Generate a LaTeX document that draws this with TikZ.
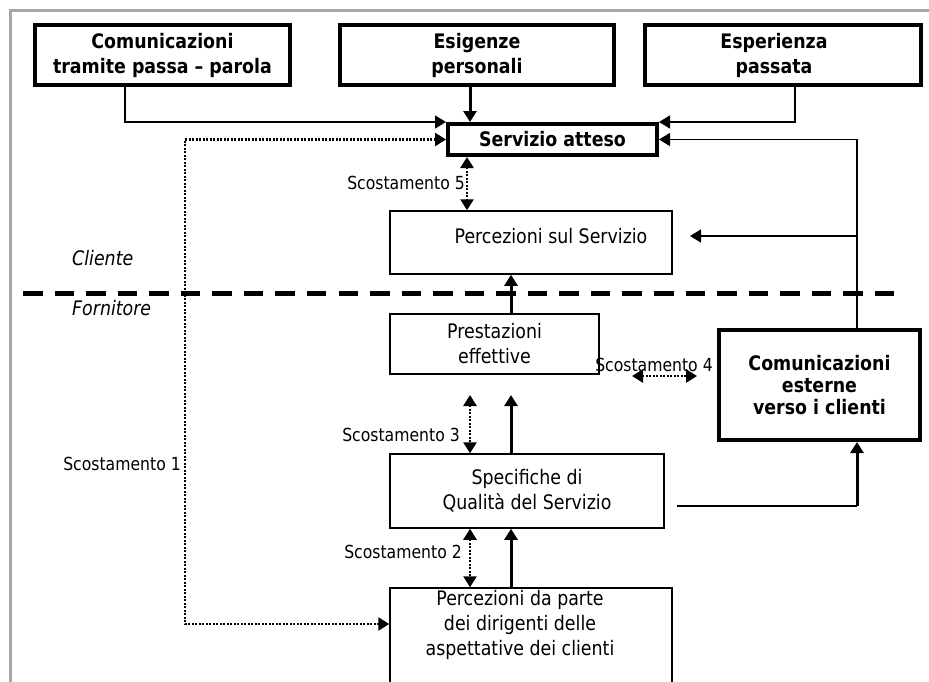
\documentclass[tikz,border=0pt]{standalone}
\usepackage{fontspec}
\setmainfont{DejaVu Sans}[FakeStretch=0.87]
\usetikzlibrary{arrows.meta,calc}
\definecolor{framec}{HTML}{A6A6A6}
\begin{document}
\begin{tikzpicture}[x=1pt,y=-1pt,
  bfont/.style={font=\bfseries\fontsize{20}{25}\selectfont, inner sep=0pt},
  nfont/.style={font=\fontsize{20}{25}\selectfont, inner sep=0pt},
  lfont/.style={font=\fontsize{18}{22}\selectfont, inner sep=0pt},
  ifont/.style={font=\itshape\fontsize{20}{24}\selectfont, inner sep=0pt},
  bbox/.style={bfont, draw, line width=4pt, rectangle, align=center},
  nbox/.style={nfont, draw, line width=1.5pt, rectangle, align=center},
  ln/.style={line width=1.5pt},
  tk/.style={line width=3pt},
  dt/.style={line width=2.5pt, dash pattern=on 2pt off 1.5pt},
  ar/.style={-{Triangle[length=11pt,width=13pt]}},
  dar/.style={{Triangle[length=11pt,width=13pt]}-{Triangle[length=11pt,width=13pt]}}
]
\clip (0,0) rectangle (929,681);
\fill[white] (0,0) rectangle (929,681);
\draw[framec, line width=3pt] (930,10) -- (10,10) -- (10,682);

% boxes
\node[bbox, minimum width=255pt, minimum height=60pt] (b1) at (162.5,55) {Comunicazioni\\tramite passa – parola};
\node[bbox, minimum width=274pt, minimum height=60pt] (b2) at (477,55) {Esigenze\\personali};
\node[bbox, minimum width=276pt, minimum height=60pt] (b3) at (783,55) {};
\node[bfont, align=center] (t3) at (774,55) {Esperienza\\passata};
\node[bbox, minimum width=209pt, minimum height=31pt] (serv) at (552.5,139.5) {Servizio atteso};
\node[nbox, minimum width=282pt, minimum height=63pt] (percS) at (531,242.5) {};
\node[nfont] (tpS) at (551,236) {Percezioni sul Servizio};
\node[nbox, minimum width=209pt, minimum height=60pt] (prest) at (494.5,344) {Prestazioni\\effettive};
\node[bbox, minimum width=201pt, minimum height=110pt, font=\bfseries\fontsize{20}{22}\selectfont] (comm) at (819.5,385) {Comunicazioni\\esterne\\verso i clienti};
\node[nbox, minimum width=274pt, minimum height=74pt] (spec) at (527,491) {Specifiche di\\Qualità del Servizio};
\node[nbox, minimum width=282pt, minimum height=124pt] (dir) at (531,650) {};
\node[nfont, align=center] (tdir) at (520,625) {Percezioni da parte\\dei dirigenti delle\\aspettative dei clienti};

% separator
\draw[line width=5pt, dash pattern=on 19.5pt off 12.05pt] (23,293) -- (895,293);
\node[ifont, anchor=base west] (cl) at (72,265) {Cliente};
\node[ifont, anchor=base west] (fo) at (72,315) {Fornitore};

% helper coordinates
\coordinate (xa) at (467,0);
\coordinate (xb) at (470,0);
\coordinate (xc) at (511,0);
\coordinate (g1) at (185,624);
\coordinate (s3top) at (470,395);
\coordinate (s4l) at (632,376);
\coordinate (s4r) at (697,376);
\coordinate (h1) at (677,506);
\coordinate (h2) at (857,506);
\coordinate (br) at (857,236);
\coordinate (brt) at (690,236);

% solid connectors
\draw[ln, ar] ([xshift=-37.5pt]b1.south) |- (serv.north west);
\draw[tk, ar] (b2.south -| xb) -- (serv.north -| xb);
\draw[ln, ar] ([xshift=12pt]b3.south) |- (serv.north east);
\draw[ln, ar] ([xshift=37.5pt]comm.north) |- (serv.east);
\draw[ln, ar] (br) -- (brt);
\draw[tk, ar] (prest.north -| xc) -- (percS.south -| xc);
\draw[tk, ar] (spec.north -| xc) -- (xc |- s3top);
\draw[tk, ar] (dir.north -| xc) -- (spec.south -| xc);
\draw[ln] (h1) -- (h2);
\draw[tk, ar] (h2) -- (comm.south -| h2);

% dotted gaps
\draw[dt, dar] (serv.west) -| (g1) -- (g1 -| dir.west);
\draw[dt, dar] (serv.south -| xa) -- (percS.north -| xa);
\draw[dt, dar] (s3top) -- (spec.north -| s3top);
\draw[dt, dar] (spec.south -| xb) -- (dir.north -| xb);
\draw[dt, dar] (s4l) -- (s4r);

% labels
\node[lfont, anchor=base east] (l5) at (465,189) {Scostamento 5};
\node[lfont, anchor=base east] (l3) at (460,441) {Scostamento 3};
\node[lfont, anchor=base east] (l1) at (181,470) {Scostamento 1};
\node[lfont, anchor=base east] (l2) at (462,558) {Scostamento 2};
\node[lfont, anchor=base] (l4) at (654,371) {Scostamento 4};
\end{tikzpicture}
\end{document}
